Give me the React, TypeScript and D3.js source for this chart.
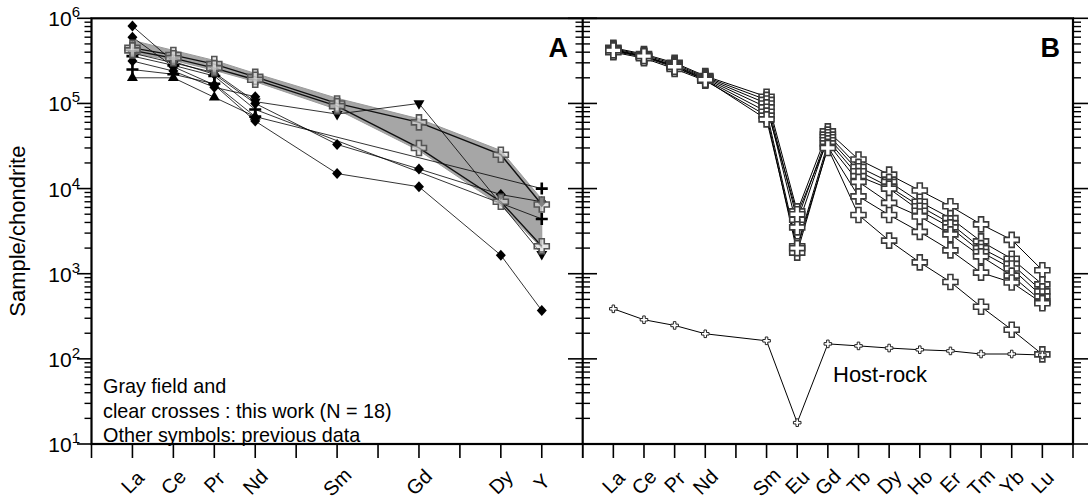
import React, { useEffect, useRef } from "react";
import * as d3 from "d3";

// element categories (x = position on the REE axis, gaps for missing elements)
const elemsA = ["La", "Ce", "Pr", "Nd", "Sm", "Gd", "Dy", "Y"];
const slotA = [1, 2, 3, 4, 6, 8, 10, 11];
const elemsB = ["La", "Ce", "Pr", "Nd", "Sm", "Eu", "Gd", "Tb", "Dy", "Ho", "Er", "Tm", "Yb", "Lu"];
const slotB = [1, 2, 3, 4, 6, 7, 8, 9, 10, 11, 12, 13, 14, 15];

const decades = [1, 2, 3, 4, 5, 6];

// panel A: gray field (this work) bounds
const fieldUpperA = [5.5e5, 4.2e5, 3.2e5, 2.25e5, 1.15e5, 6.6e4, 2.8e4, 7.5e3];
const fieldLowerA = [3.9e5, 3.2e5, 2.45e5, 1.8e5, 8.5e4, 2.8e4, 6.3e3, 2.0e3];

// panel A: clear crosses (this work)
const crossesA = [
  [4.5e5, 3.7e5, 2.9e5, 2.05e5, 1.0e5, 6.0e4, 2.5e4, 6.5e3],
  [4.2e5, 3.4e5, 2.6e5, 1.9e5, 9.3e4, 3.0e4, 7.0e3, 2.1e3],
];

// panel A: previous data (null = not analysed)
const prevSymbols = ["diamond", "diamond", "diamond", "plus", "plus", "triUp", "triDown"];
const prevA: (number | null)[][] = [
  [8.1e5, 3.1e5, 2.2e5, 1.0e5, 3.3e4, 1.7e4, 8.5e3, 7.0e3],
  [6.0e5, 2.7e5, 1.65e5, 6.2e4, 1.5e4, 1.05e4, 1.65e3, 370],
  [3.15e5, 2.4e5, 1.55e5, 1.2e5, null, null, null, null],
  [2.5e5, 2.2e5, 1.7e5, 7.0e4, null, null, null, 1.0e4],
  [3.6e5, 2.8e5, 2.1e5, 8.5e4, null, null, null, 4.4e3],
  [2.0e5, 2.0e5, 1.18e5, 7.0e4, null, null, null, null],
  [3.9e5, 3.0e5, 2.3e5, 1.05e5, 7.5e4, 1.0e5, null, 1.7e3],
];

// panel B: this work samples
const samplesB = [
  [4.5e5, 3.8e5, 3.0e5, 2.1e5, 1.2e5, 5.4e3, 4.7e4, 2.2e4, 1.46e4, 9.5e3, 6.2e3, 3.8e3, 2.5e3, 1.1e3],
  [4.4e5, 3.7e5, 2.9e5, 2.05e5, 1.1e5, 4.3e3, 4.3e4, 1.8e4, 1.2e4, 7.0e3, 4.5e3, 2.4e3, 1.5e3, 750],
  [4.3e5, 3.6e5, 2.8e5, 2.0e5, 1.0e5, 3.5e3, 4.0e4, 1.6e4, 1.05e4, 6.2e3, 3.9e3, 2.0e3, 1.3e3, 620],
  [4.2e5, 3.55e5, 2.75e5, 1.95e5, 9.0e4, 5.0e3, 3.7e4, 1.4e4, 1.0e4, 5.5e3, 3.5e3, 1.8e3, 1.15e3, 540],
  [4.1e5, 3.5e5, 2.65e5, 1.9e5, 8.0e4, 2.1e3, 3.4e4, 1.2e4, 6.8e3, 4.7e3, 2.9e3, 1.6e3, 950, 470],
  [4.0e5, 3.4e5, 2.55e5, 1.85e5, 7.2e4, 1.77e3, 3.1e4, 8.1e3, 4.9e3, 3.1e3, 1.88e3, 1.03e3, 790, 450],
  [4.2e5, 3.6e5, 2.7e5, 1.9e5, 6.5e4, 2.0e3, 3.0e4, 4.9e3, 2.45e3, 1.36e3, 800, 410, 220, 113],
];
const hostRock = [387, 288, 247, 197, 163, 17.8, 150, 142, 134, 128, 124, 114, 114, 111];

const FONT = "'Liberation Sans', Arial, sans-serif";

export default function App() {
  const ref = useRef<SVGSVGElement>(null);

  useEffect(() => {
    const svg = d3.select(ref.current);
    svg.selectAll("*").remove();

    const top = 18.3, bottom = 444;
    const xA = d3.scaleLinear().domain([0, 12]).range([91.5, 582.7]);
    const xB = d3.scaleLinear().domain([0, 16]).range([582.7, 1073]);
    const y = d3.scaleLog().domain([10, 1e6]).range([bottom, top]);

    const g = svg.append("g");

    // gray field
    const fieldPts: [number, number][] = [
      ...fieldUpperA.map((v, i) => [xA(slotA[i]), y(v)] as [number, number]),
      ...fieldLowerA.map((v, i) => [xA(slotA[i]), y(v)] as [number, number]).reverse(),
    ];
    g.append("path")
      .attr("d", "M" + fieldPts.map(p => p.join(",")).join("L") + "Z")
      .attr("fill", "#a6a6a6")
      .attr("stroke", "#9a9a9a")
      .attr("stroke-width", 1);

    const lineA = d3.line<number | null>()
      .defined(d => d != null)
      .x((d, i) => xA(slotA[i]))
      .y(d => y(d as number));

    // previous data lines (gaps bridged)
    prevA.forEach(s => {
      const pts = s.map((v, i) => (v == null ? null : [xA(slotA[i]), y(v)])).filter(Boolean) as [number, number][];
      g.append("path")
        .attr("d", d3.line()(pts))
        .attr("fill", "none")
        .attr("stroke", "#000")
        .attr("stroke-width", 0.8);
    });

    crossesA.forEach(s => {
      g.append("path")
        .attr("d", lineA(s))
        .attr("fill", "none")
        .attr("stroke", "#111")
        .attr("stroke-width", 1.4);
    });

    // previous data markers
    prevA.forEach((s, k) => {
      const sym = prevSymbols[k];
      s.forEach((v, i) => {
        if (v == null) return;
        const cx = xA(slotA[i]), cy = y(v);
        if (sym === "plus") {
          g.append("path")
            .attr("d", `M${cx - 6},${cy}H${cx + 6}M${cx},${cy - 6}V${cy + 6}`)
            .attr("stroke", "#000").attr("stroke-width", 2.6);
        } else if (sym === "diamond") {
          g.append("path")
            .attr("d", `M${cx},${cy - 5.5}L${cx + 5},${cy}L${cx},${cy + 5.5}L${cx - 5},${cy}Z`)
            .attr("fill", "#000");
        } else {
          const rot = sym === "triDown" ? 180 : 0;
          g.append("path")
            .attr("d", d3.symbol().type(d3.symbolTriangle).size(52)())
            .attr("transform", `translate(${cx},${cy}) rotate(${rot})`)
            .attr("fill", "#000");
        }
      });
    });

    // this-work crosses, panel A
    crossesA.forEach(s => {
      s.forEach((v, i) => {
        g.append("path")
          .attr("d", d3.symbol().type(d3.symbolCross).size(125)())
          .attr("transform", `translate(${xA(slotA[i])},${y(v)})`)
          .attr("fill", "#d8d8d8")
          .attr("fill-opacity", 0.6)
          .attr("stroke", "#555")
          .attr("stroke-width", 1.6);
      });
    });

    // panel B
    const lineB = d3.line<number>()
      .x((d, i) => xB(slotB[i]))
      .y(d => y(d));

    samplesB.forEach(s => {
      g.append("path").attr("d", lineB(s))
        .attr("fill", "none").attr("stroke", "#000").attr("stroke-width", 1);
    });
    g.append("path").attr("d", lineB(hostRock))
      .attr("fill", "none").attr("stroke", "#000").attr("stroke-width", 1);

    samplesB.forEach(s => {
      s.forEach((v, i) => {
        g.append("path")
          .attr("d", d3.symbol().type(d3.symbolCross).size(125)())
          .attr("transform", `translate(${xB(slotB[i])},${y(v)})`)
          .attr("fill", "#fff")
          .attr("stroke", "#3a3a3a")
          .attr("stroke-width", 1.6);
      });
    });
    hostRock.forEach((v, i) => {
      g.append("path")
        .attr("d", d3.symbol().type(d3.symbolCross).size(32)())
        .attr("transform", `translate(${xB(slotB[i])},${y(v)})`)
        .attr("fill", "#fff")
        .attr("stroke", "#222")
        .attr("stroke-width", 1);
    });

    // frames
    const ax = svg.append("g").attr("stroke", "#000");
    ax.append("rect")
      .attr("x", 91.5).attr("y", top)
      .attr("width", 1073 - 91.5).attr("height", bottom - top)
      .attr("fill", "none").attr("stroke-width", 2.2);
    ax.append("line")
      .attr("x1", 582.7).attr("x2", 582.7).attr("y1", top).attr("y2", bottom)
      .attr("stroke-width", 2.2);

    // y ticks
    const minorVals: number[] = [];
    for (let e = 1; e < 6; e++) for (let m = 2; m <= 9; m++) minorVals.push(m * Math.pow(10, e));
    decades.forEach(e => {
      const yy = y(Math.pow(10, e));
      ax.append("line").attr("x1", 77).attr("x2", 91.5).attr("y1", yy).attr("y2", yy).attr("stroke-width", 1.6);
      ax.append("line").attr("x1", 568).attr("x2", 597).attr("y1", yy).attr("y2", yy).attr("stroke-width", 1.6);
      ax.append("line").attr("x1", 1073).attr("x2", 1088).attr("y1", yy).attr("y2", yy).attr("stroke-width", 1.6);
    });
    minorVals.forEach(v => {
      const yy = y(v);
      ax.append("line").attr("x1", 84.5).attr("x2", 91.5).attr("y1", yy).attr("y2", yy).attr("stroke-width", 1.4);
      ax.append("line").attr("x1", 575.5).attr("x2", 590).attr("y1", yy).attr("y2", yy).attr("stroke-width", 1.4);
      ax.append("line").attr("x1", 1073).attr("x2", 1081).attr("y1", yy).attr("y2", yy).attr("stroke-width", 1.4);
    });

    // x ticks
    d3.range(0, 13).forEach(t => {
      ax.append("line").attr("x1", xA(t)).attr("x2", xA(t)).attr("y1", bottom).attr("y2", 458).attr("stroke-width", 1.6);
    });
    d3.range(0, 17).forEach(t => {
      ax.append("line").attr("x1", xB(t)).attr("x2", xB(t)).attr("y1", bottom).attr("y2", 458).attr("stroke-width", 1.6);
    });

    const txt = svg.append("g").attr("font-family", FONT).attr("fill", "#000");

    // y tick labels
    decades.forEach(e => {
      const t = txt.append("text")
        .attr("x", 80).attr("y", y(Math.pow(10, e)) + 8)
        .attr("text-anchor", "end")
        .attr("font-size", 21);
      t.append("tspan").text("10");
      t.append("tspan").attr("dy", -9).attr("font-size", 15).text(String(e));
    });

    // x labels
    elemsA.forEach((el, i) => {
      txt.append("text")
        .attr("transform", `translate(${xA(slotA[i])},${482}) rotate(-45)`)
        .attr("text-anchor", "middle").attr("dominant-baseline", "central")
        .attr("font-size", 20).text(el);
    });
    elemsB.forEach((el, i) => {
      txt.append("text")
        .attr("transform", `translate(${xB(slotB[i])},${482}) rotate(-45)`)
        .attr("text-anchor", "middle").attr("dominant-baseline", "central")
        .attr("font-size", 20).text(el);
    });

    txt.append("text")
      .attr("transform", `translate(25,${(top + bottom) / 2}) rotate(-90)`)
      .attr("text-anchor", "middle")
      .attr("font-size", 22)
      .text("Sample/chondrite");

    txt.append("text").attr("x", 568).attr("y", 57).attr("text-anchor", "end")
      .attr("font-size", 27).attr("font-weight", "bold").text("A");
    txt.append("text").attr("x", 1060).attr("y", 57).attr("text-anchor", "end")
      .attr("font-size", 27).attr("font-weight", "bold").text("B");

    const legend = ["Gray field and", "clear crosses : this work (N = 18)", "Other symbols: previous data"];
    legend.forEach((s, i) => {
      txt.append("text").attr("x", 103).attr("y", 393 + i * 24.5)
        .attr("font-size", 19.8).text(s);
    });

    txt.append("text").attr("x", 833).attr("y", 382)
      .attr("font-size", 22).text("Host-rock");
  }, []);

  return (
    <svg
      ref={ref}
      width={1091}
      height={502}
      style={{ position: "absolute", left: 0, top: 0, background: "#fff" }}
    />
  );
}
